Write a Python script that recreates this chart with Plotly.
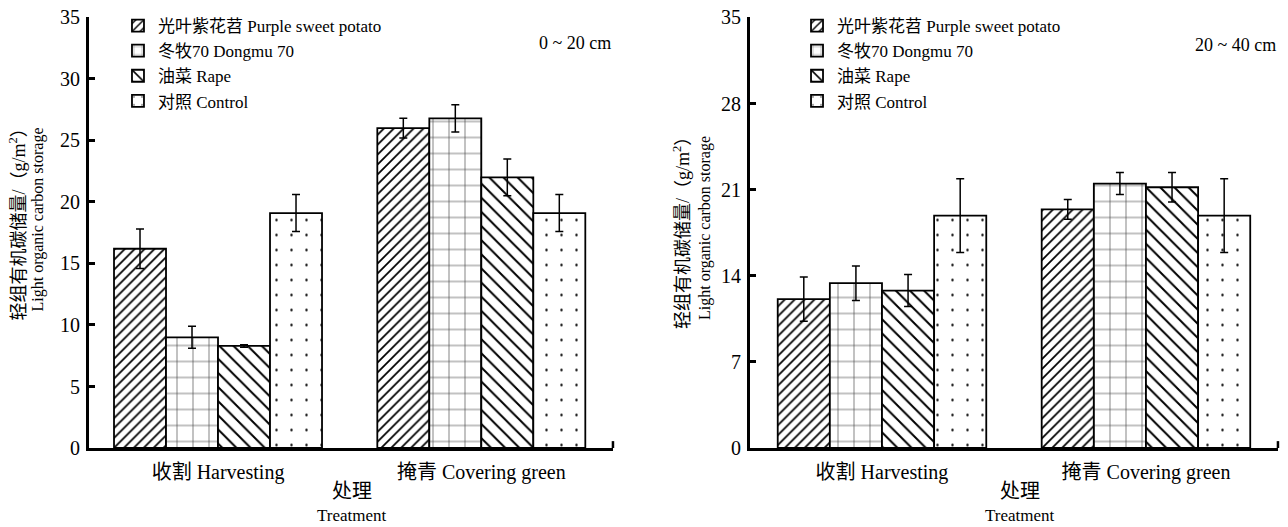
import plotly.graph_objects as go

categories = ["收割 Harvesting", "掩青 Covering green"]
series_names = ["光叶紫花苕 Purple sweet potato", "冬牧70 Dongmu 70", "油菜 Rape", "对照 Control"]

# 0~20 cm
top_values = {
    "光叶紫花苕 Purple sweet potato": [16.2, 26.0],
    "冬牧70 Dongmu 70": [9.0, 26.8],
    "油菜 Rape": [8.3, 22.0],
    "对照 Control": [19.1, 19.1],
}
top_errors = {
    "光叶紫花苕 Purple sweet potato": [1.6, 0.8],
    "冬牧70 Dongmu 70": [0.9, 1.1],
    "油菜 Rape": [0.1, 1.5],
    "对照 Control": [1.5, 1.5],
}
# 20~40 cm
sub_values = {
    "光叶紫花苕 Purple sweet potato": [12.1, 19.4],
    "冬牧70 Dongmu 70": [13.4, 21.5],
    "油菜 Rape": [12.8, 21.2],
    "对照 Control": [18.9, 18.9],
}
sub_errors = {
    "光叶紫花苕 Purple sweet potato": [1.8, 0.8],
    "冬牧70 Dongmu 70": [1.4, 0.9],
    "油菜 Rape": [1.3, 1.2],
    "对照 Control": [3.0, 3.0],
}
left_ticks = [0, 5, 10, 15, 20, 25, 30, 35]
right_ticks = [0, 7, 14, 21, 28, 35]

patterns = {
    "光叶紫花苕 Purple sweet potato": dict(shape="/", size=7, solidity=0.25, fg="black"),
    "冬牧70 Dongmu 70": dict(shape="+", size=16, solidity=0.08, fg="#444444"),
    "油菜 Rape": dict(shape="\\", size=10, solidity=0.2, fg="black"),
    "对照 Control": dict(shape=".", size=15, solidity=0.02, fg="black"),
}

FONT = "Liberation Serif, Times New Roman, Noto Sans CJK SC, serif"

fig = go.Figure()
for panel, (vals, errs, xa, ya, lg) in enumerate([
    (top_values, top_errors, "x", "y", "legend"),
    (sub_values, sub_errors, "x2", "y2", "legend2"),
]):
    for i, name in enumerate(series_names):
        p = patterns[name]
        fig.add_trace(go.Bar(
            x=categories, y=vals[name], name=name,
            xaxis=xa, yaxis=ya, legend=lg, offsetgroup=str(i),
            marker=dict(color="white", line=dict(color="black", width=1.8),
                        pattern=dict(shape=p["shape"], size=p["size"], solidity=p["solidity"],
                                     fgcolor=p["fg"], bgcolor="white", fillmode="replace")),
            error_y=dict(type="data", array=errs[name], color="black", thickness=1.5, width=4),
        ))

yaxis_common = dict(showline=True, linecolor="black", linewidth=3, ticks="inside",
                    tickcolor="black", tickwidth=3, ticklen=6, showgrid=False, zeroline=False,
                    automargin=False, range=[0, 35], ticklabelstandoff=2,
                    ticklabeloverflow="allow",
                    tickfont=dict(family=FONT, size=20, color="black"))
xaxis_common = dict(showline=True, linecolor="black", linewidth=3, ticks="",
                    showgrid=False, zeroline=False, automargin=False,
                    ticklabelstandoff=4, ticklabeloverflow="allow",
                    tickfont=dict(family=FONT, size=20, color="black"))

fig.update_layout(
    template="none",
    width=1288, height=527,
    margin=dict(l=0, r=0, t=0, b=0, pad=0),
    paper_bgcolor="white", plot_bgcolor="white",
    barmode="group", bargap=0.21, bargroupgap=0,
    showlegend=True,
    font=dict(family=FONT, color="black"),
    xaxis=dict(domain=[0.0691, 0.4759], anchor="y", range=[-0.49, 1.5], **xaxis_common),
    yaxis=dict(domain=[0.1499, 0.9668], anchor="x", tickvals=left_ticks, **yaxis_common),
    xaxis2=dict(domain=[0.5823, 0.9922], anchor="y2", range=[-0.5, 1.5], **xaxis_common),
    yaxis2=dict(domain=[0.1499, 0.9668], anchor="x2", tickvals=right_ticks, **yaxis_common),
    legend=dict(x=0.0916, y=0.9848, xanchor="left", yanchor="top", bgcolor="rgba(0,0,0,0)",
                font=dict(family=FONT, size=17, color="black"), tracegroupgap=0),
    legend2=dict(x=0.6188, y=0.9848, xanchor="left", yanchor="top", bgcolor="rgba(0,0,0,0)",
                 font=dict(family=FONT, size=17, color="black"), tracegroupgap=0),
)

def ann(text, x, y, size, angle=0, xanchor="center", yanchor="middle"):
    return dict(text=text, x=x, y=y, xref="paper", yref="paper", xanchor=xanchor, yanchor=yanchor,
                textangle=angle, showarrow=False, font=dict(family=FONT, size=size, color="black"))

annotations = [
    ann("0 ~ 20 cm", 0.4759, 0.9184, 18, xanchor="right"),
    ann("20 ~ 40 cm", 0.9922, 0.9146, 18, xanchor="right"),
    ann("处理", 0.2733, 0.0683, 20),
    ann("Treatment", 0.2733, 0.0, 17, yanchor="bottom"),
    ann("处理", 0.7919, 0.0683, 20),
    ann("Treatment", 0.7919, 0.0, 17, yanchor="bottom"),
    ann("轻组有机碳储量/（g/m<sup>2</sup>）", 0.0136, 0.5825, 18, angle=-90),
    ann("Light organic carbon storage", 0.0299, 0.5825, 16, angle=-90),
    ann("轻组有机碳储量/（g/m<sup>2</sup>）", 0.5295, 0.5674, 18, angle=-90),
    ann("Light organic carbon storage", 0.5474, 0.5674, 16, angle=-90),
]
fig.update_layout(annotations=annotations)

# small upward end tick on each x axis
for xr, yr in [("x domain", "y domain"), ("x2 domain", "y2 domain")]:
    fig.add_shape(type="line", xref=xr, yref=yr, x0=1, x1=1, y0=0, y1=0.016,
                  line=dict(color="black", width=2.5))

# remove the browser's default body margin so the figure fills the window exactly
fig.write_html("out.html", config={"displayModeBar": False},
               post_script="document.body.style.margin='0';")
